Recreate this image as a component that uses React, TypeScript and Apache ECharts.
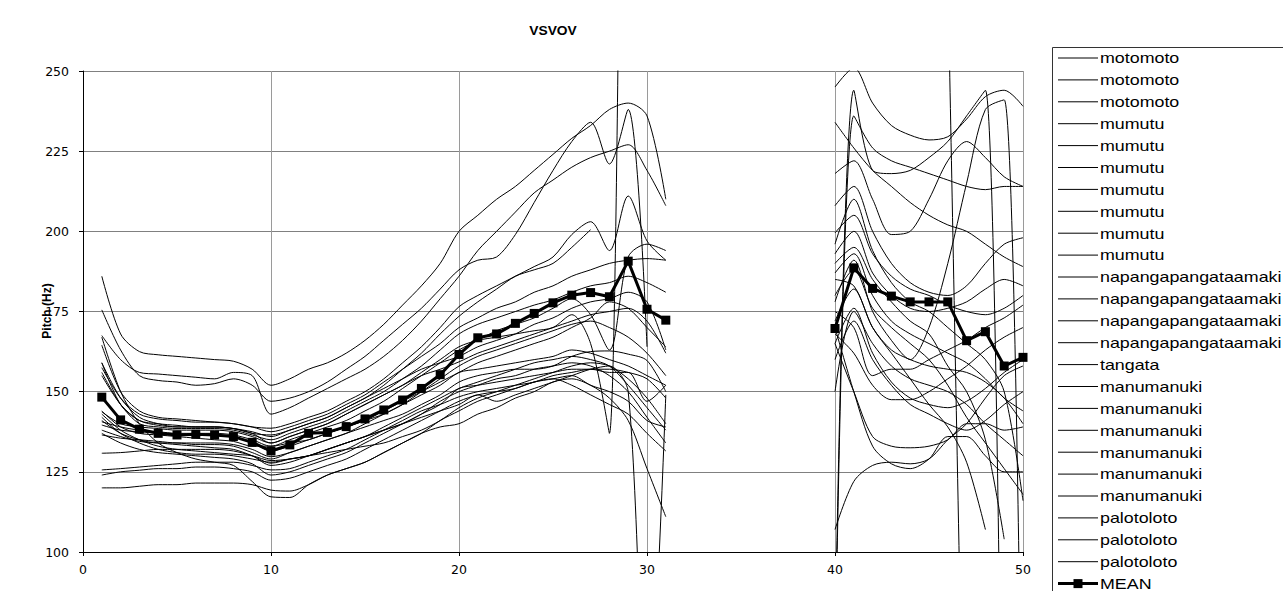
import React, { useEffect, useRef } from "react";
import * as echarts from "echarts";

// x positions: first phrase 1..31, second phrase 40..50
const leftX = [1, 2, 3, 4, 5, 6, 7, 8, 9, 10, 11, 12, 13, 14, 15, 16, 17, 18, 19, 20, 21, 22, 23, 24, 25, 26, 27, 28, 29, 30, 31];
const rightX = [40, 41, 42, 43, 44, 45, 46, 47, 48, 49, 50];

const xTicks = [0, 10, 20, 30, 40, 50];
const yTicks = [100, 125, 150, 175, 200, 225, 250];

const seriesNames = [
  "motomoto", "motomoto", "motomoto",
  "mumutu", "mumutu", "mumutu", "mumutu", "mumutu", "mumutu", "mumutu",
  "napangapangataamaki", "napangapangataamaki", "napangapangataamaki", "napangapangataamaki",
  "tangata",
  "manumanuki", "manumanuki", "manumanuki", "manumanuki", "manumanuki", "manumanuki",
  "palotoloto", "palotoloto", "palotoloto",
];

// each: 31 values for x=1..31, then 11 values for x=40..50
const motomoto1 = [186, 168, 162.5, 161.5, 161, 160.5, 160, 159.5, 157, 152, 154, 157, 159, 162, 166, 171, 177, 183, 190, 200, 205, 210, 214, 219, 224, 229, 233, 238, 240, 236, 210,
  245, 251, 240, 233, 230, 228.5, 229.5, 235, 242, 244, 239];
const motomoto2 = [175.5, 163, 155, 153.5, 153, 152, 152.5, 154, 152, 147, 148, 150, 153, 157, 161, 166, 171, 176, 182, 188, 191, 192, 199, 209, 219, 228, 234, 221, 238, 164, null,
  70, 244, 219, 218, 219, 223, 228, 236, 244, -50, null];
const motomoto3 = [167.5, 160, 156, 155.5, 155, 154.5, 154, 156, 155, 143, 145, 148, 151, 154, 157, 161, 166, 172, 179, 186, 194, 200, 206, 212, 216, 220, 223, 225, 227, 219, 208,
  60, 236, 226, 222, 220, 218, 216, 214, 213, 214, 214];
const mumutu1 = [164.5, 150, 144, 142, 141.5, 141, 140.5, 140, 139, 138.6, 140, 142, 144, 147, 150, 154, 159, 164, 170, 176.5, 180, 183, 186, 189, 192, 199, 203, 194, 211, 197, 191,
  234, 226, 219, 214, 209, 205, 202, 200, 196, 192, 189];
const mumutu2 = [159, 146, 141, 140, 139.5, 139, 139, 138.5, 137, 136.5, 138, 140, 142, 145, 148, 152, 157, 162, 168, 173.5, 178, 182, 186, 188, 190, 195, 200.5, null, null, null, null,
  218, 222, 210, 199, 200, 210, 222, 228, 223, 217, 214];
const mumutu3 = [157.5, 148, 143, 141.5, 141, 140.5, 140.5, 140, 139, 137.5, 139, 141, 143, 146, 149, 153, 157, 161, 165, 170, 173, 176, 178, 181, 183, 186, 188, 190, 191, 191.5, 191,
  208, 214, 200, 190, 184, 181, 180, 183, 190, 196, 198];
const mumutu4 = [156, 146, 140, 139, 138.5, 138.5, 138.5, 138, 136.5, 135, 137, 139, 141, 144, 147, 150, 154, 158, 163, 168, 171, 173, 175, 177, 178.6, 181, 183, 184, 186, 184, 181,
  199.5, 205, 193, 186, 182, 180, 177, 175, 174, 176, 180];
const mumutu5 = [143.7, 140, 139, 138.5, 138, 138, 138, 137.5, 136, 134, 136, 138, 140, 143, 146, 149, 152, 156, 160, 164, 166, 167, 168, 169, 170, 174, 165, 137, 700, null, null,
  null, null, null, null, null, null, 280, -20, null, null, null];
const mumutu6 = [140.6, 139, 138, 137.5, 137, 137, 137, 136.5, 135, 133, 135, 137, 139, 141, 144, 147, 151, 155, 159, 163, 166, 169, 171, 173, 176, 179, 174, 163, 192, 196, 194,
  193, 200, 187, 180, 176, 175, 176, 178, 182, 185, 183];
const mumutu7 = [139.6, 138, 137.5, 137, 136.5, 136.5, 136.5, 136, 134, 131.5, 133, 135, 137, 139, 141, 144, 147, 150, 153, 156, 159, 161, 163, 165, 167, 170, 173, 178, 176, 170, 164,
  187, 193, 180, 172, 168, 165, 162, 159, 154, 148, 144];
const napanga1 = [136.5, 135.5, 135, 134.5, 134, 134, 134, 133.5, 132, 129.7, 131, 133, 135, 137, 139, 141, 143, 146, 149, 153, 155, 156, 157, 157, 158, 161, 162.5, 162.7, 161.7, 159.7, 150,
  172, 182, 170, 163, 160, 158, 157, 156, 153, 148, 140];
const napanga2 = [130.8, 131, 131.5, 132, 132, 132, 132, 131.5, 130, 127.7, 129, 130, 132, 134, 136, 138, 140, 143, 146, 151, 152, 153, 154, 155, 156, 157, 157, 157, 156, 154, 148,
  165, 176, 162, 153, 148, 146, 145, 147, 151, 156, 160];
const napanga3 = [125.6, 126, 126.5, 127, 127.5, 128, 128, 128, 127, 125.6, 126, 128, 130, 132, 135, 138, 141, 144, 146, 148.4, 150, 151, 152, 153, 155, 156, 157, 156, 156, 147, 152,
  175, 170, 155, 157, 157, 160, 163, 166, 170, 173, 177];
const napanga4 = [124, 125, 125.5, 126, 126, 126.5, 126.5, 126, 125, 122.4, 123, 125, 127, 129, 132, 135, 138, 141, 144, 147, 149, 150, 151, 153, 154, 155, 152, 150, 147, 141, 139,
  168, 162, 152, 147.5, 147.5, 150, 154, 158, 163, 167, 170];
const tangata1 = [120, 120, 120.5, 121, 121, 121.5, 121.5, 121.5, 121, 119.3, 119, 121, 124, 126, 128, 131, 134, 137, 141, 144, 147, 149, 151, 153, 154, 152, 149, 146, 143, 137, 131.5,
  165, 150, 136, 133, 132.5, 133, 135, 140, 140, 138, 139];
const manumanuki1 = [167, 150, 140, 134, 131, 129, 128, 127, 122, 117.2, 117, 121, 124, 126, 128, 131, 134, 137, 139, 140, 143, 145, 148, 150, 153, 154, 152, 148, 141, 126, 111,
  170, 150, 133, 127.5, 126, 129, 136, 136, 130, 125, 125];
const manumanuki2 = [159, 148, 142, 140, 139, 139, 139, 138.5, 137, 134, 136, 138, 140, 143, 146, 149, 152, 155, 157, 159.3, 162, 164, 166, 168, 170, 172, 174, 175, 176, 172, 162,
  107, 122, 127, 128, 127.5, 129, 135, 140, 148, 155, 158];
const manumanuki3 = [155, 146, 141, 139.5, 139, 139, 139, 138.5, 137.5, 136, 138, 140, 142, 145, 148, 151, 154, 157, 159, 161, 164, 166, 168, 171, 173, 176, 178, 179, 181, 178, 163,
  185, 183, 170, 162, 154, 146, 139, 128, 107, null, null];
const manumanuki4 = [144, 139, 137, 136.5, 136, 135.5, 135, 134.5, 133, 133, 134, 135, 137, 139, 141, 143, 146, 149, 152, 156, 157, 158, 159, 160, 161, 163, 162, 160, 158, 155, 152,
  190, 195, 185, 178, 172, 168, 158, 150, 135, 104, null];
const manumanuki5 = [142, 137, 134, 132, 131, 130.5, 130.5, 130, 129, 128, 129, 130, 132, 134, 136, 138, 140, 142, 144, 146, 149, 147, 149, 151, 153, 155, 157, 158, 150, 40, 149,
  180, 188, 176, 170, 165, 160, 152, 142, 134, 126, 118];
const manumanuki6 = [143, 138, 135, 133, 132, 131.5, 131, 130.5, 130, 128.5, 129, 130, 131, 132, 133, 134, 136, 138, 141, 145, 148, 150, 152, 154, 156, 158, 159, 158, 154, 148, 140,
  160, 172, 160, 152, 146, 143, 140, 138, 141, 146, 150];
const palotoloto1 = [141, 137, 135, 134, 134, 133.5, 133.5, 133, 131, 129, 131, 133, 135, 137, 140, 143, 146, 150, 154, 158, 161, 163, 165, 167, 169, 171, 172, 170, 167, 162, 155,
  196, 210, 194, 184, 178, 175, 170, 165, 160, 150, 116];
const palotoloto2 = [138, 136, 134.5, 134, 133.5, 133, 132.5, 132, 130, 127, 128, 130, 132, 134, 136, 139, 142, 145, 148, 151, 153, 155, 157, 159, 160, 161, 160, 158, 152, 145, 138,
  178, 191, 175, 166, 160, 170, 190, 215, 238, 241, 0];
const palotoloto3 = [137, 134, 132, 131, 130.5, 130, 129.5, 129, 127.5, 124, 125, 127, 129, 131, 134, 137, 140, 143, 147, 150, 152, 154, 155, 157, 158, 159, 158, 155, 150, 142, 134,
  150, 175, 165, 158, 154, 152, 150, 146, 140, 135, 130];

const meanValues = [148.3, 141.2, 138.3, 137, 136.5, 136.7, 136.5, 136, 134.2, 131.5, 133.4, 137, 137.3, 139.1, 141.5, 144.3, 147.4, 151, 155.3, 161.6, 166.8, 168, 171.3, 174.4, 177.7, 180.1, 180.9, 179.6, 190.7, 175.7, 172.3,
  169.7, 188.6, 182.2, 179.8, 178, 178, 178, 165.9, 168.7, 158, 160.7];

const seriesValues = [
  motomoto1, motomoto2, motomoto3,
  mumutu1, mumutu2, mumutu3, mumutu4, mumutu5, mumutu6, mumutu7,
  napanga1, napanga2, napanga3, napanga4,
  tangata1,
  manumanuki1, manumanuki2, manumanuki3, manumanuki4, manumanuki5, manumanuki6,
  palotoloto1, palotoloto2, palotoloto3,
];

function toPoints(values: (number | null)[]) {
  const xs = [...leftX, ...rightX];
  const pts: any[] = [];
  xs.forEach((x, i) => {
    if (i === leftX.length) pts.push([35, null]); // break between the two phrases
    pts.push([x, values[i]]);
  });
  return pts;
}

const LABEL_FONT = "DejaVu Sans";

export default function App() {
  const ref = useRef<HTMLDivElement>(null);

  useEffect(() => {
    if (!ref.current) return;
    const chart = echarts.init(ref.current, undefined, { renderer: "svg" });

    const lineSeries: any[] = seriesValues.map((vals, i) => ({
      name: seriesNames[i] + " " + (i + 1),
      type: "line",
      data: toPoints(vals),
      showSymbol: false,
      symbol: "none",
      smooth: 0.3,
      connectNulls: false,
      lineStyle: { color: "#000", width: 1 },
      itemStyle: { color: "#000" },
      emphasis: { disabled: true },
      z: 2,
    }));

    lineSeries.push({
      name: "MEAN",
      type: "line",
      data: toPoints(meanValues),
      symbol: "rect",
      symbolSize: 9,
      connectNulls: false,
      lineStyle: { color: "#000", width: 3 },
      itemStyle: { color: "#000" },
      emphasis: { disabled: true },
      z: 5,
    });

    // legend drawn manually (names repeat)
    const legendNames = [...seriesNames, "MEAN"];
    const legendEls: any[] = [
      {
        type: "rect",
        shape: { x: 1052.5, y: 47.5, width: 400, height: 600 },
        style: { fill: "#fff", stroke: "#333", lineWidth: 1 },
        silent: true,
      },
    ];
    legendNames.forEach((nm, i) => {
      const y = 58 + i * 21.9;
      const isMean = nm === "MEAN";
      legendEls.push({
        type: "line",
        shape: { x1: 1058, y1: y, x2: 1098, y2: y },
        style: { stroke: "#000", lineWidth: isMean ? 3 : 1 },
        silent: true,
      });
      if (isMean) {
        legendEls.push({
          type: "rect",
          shape: { x: 1073.5, y: y - 4.5, width: 9, height: 9 },
          style: { fill: "#000" },
          silent: true,
        });
      }
      legendEls.push({
        type: "text",
        x: 1100,
        y: y,
        scaleX: 1.23,
        style: {
          text: nm,
          fill: "#000",
          font: '14.5px "Liberation Sans", Arial, sans-serif',
          align: "left",
          verticalAlign: "middle",
        },
        silent: true,
      });
    });

    chart.setOption({
      animation: false,
      backgroundColor: "#fff",
      grid: { left: 83, top: 71, width: 940, height: 481, containLabel: false },
      xAxis: {
        type: "value",
        min: xTicks[0],
        max: xTicks[xTicks.length - 1],
        interval: 10,
        axisLine: { show: true, onZero: false, lineStyle: { color: "#000", width: 1 } },
        axisTick: { show: true, length: 4, lineStyle: { color: "#000" } },
        axisLabel: { color: "#000", fontSize: 12.5, fontFamily: LABEL_FONT, margin: 11 },
        splitLine: { show: true, lineStyle: { color: "#9a9a9a", width: 1 } },
      },
      yAxis: {
        type: "value",
        min: yTicks[0],
        max: yTicks[yTicks.length - 1],
        interval: 25,
        axisLine: { show: true, onZero: false, lineStyle: { color: "#000", width: 1 } },
        axisTick: { show: true, length: 4, lineStyle: { color: "#000" } },
        axisLabel: { color: "#000", fontSize: 12.5, fontFamily: LABEL_FONT, margin: 14 },
        splitLine: { show: true, lineStyle: { color: "#808080", width: 1 } },
      },
      graphic: [
        {
          type: "text",
          x: 553,
          y: 31,
          scaleX: 1.15,
          style: {
            text: "VSVOV",
            fill: "#000",
            font: 'bold 12px "Liberation Sans", Arial, sans-serif',
            align: "center",
            verticalAlign: "middle",
          },
          silent: true,
        },
        {
          type: "text",
          x: 47,
          y: 311,
          rotation: Math.PI / 2,
          style: {
            text: "Pitch (Hz)",
            fill: "#000",
            font: 'bold 12px "Liberation Sans", Arial, sans-serif',
            align: "center",
            verticalAlign: "middle",
          },
          silent: true,
        },
        ...legendEls,
      ],
      series: lineSeries,
    });

    return () => chart.dispose();
  }, []);

  return (
    <div
      ref={ref}
      style={{ position: "absolute", left: 0, top: 0, width: 1283, height: 591, background: "#fff" }}
    />
  );
}
